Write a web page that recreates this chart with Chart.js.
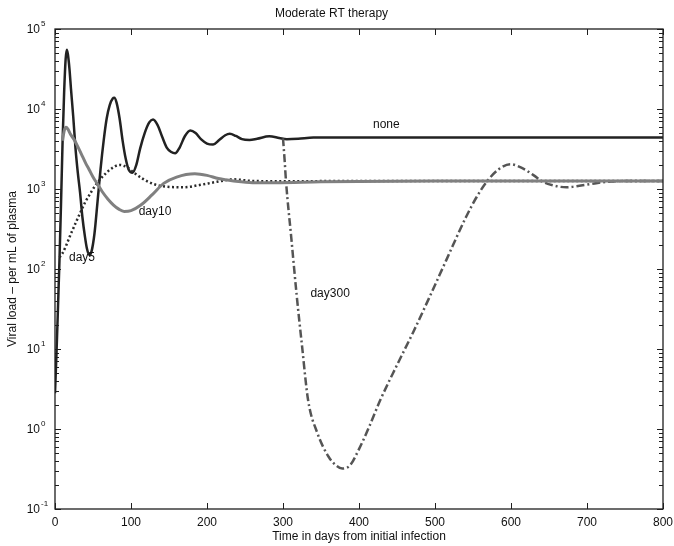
<!DOCTYPE html>
<html>
<head>
<meta charset="utf-8">
<script src="https://cdn.jsdelivr.net/npm/chart.js@4.4.0/dist/chart.umd.min.js"></script>
<style>
html,body{margin:0;padding:0;background:#fff;}
</style>
</head>
<body>
<canvas id="myChart" width="674" height="546"></canvas>
<script>
// datos (dias, carga viral)
const tNone = [0,2,4,6,8,10,12,14,15.5,17,19,21,24,27,30,33,36,39.5,42,45,48,52,56,60,64,68,72,76,78,81,85,89,93,97,102,107,112,118,124,129,135,141,147,153,158,164,171,178,185,192,200,208,216,224,230,238,246,256,266,282,295,305,320,340,400,500,600,700,800];
const vNone = [2.8,9,35,140,700,4000,16000,42000,55000,48000,32000,18000,8000,3200,1600,900,450,250,180,150,165,280,700,1800,4000,7600,11200,13500,13800,12000,7600,4000,2400,1740,1600,2000,3200,5000,6800,7400,6300,4500,3300,2900,2800,3300,4600,5400,5000,4200,3700,3600,4100,4700,4900,4600,4200,4100,4250,4550,4350,4200,4250,4400,4400,4400,4400,4400,4400];

const tDay5 = [6,10,15,20,26,33,40,48,55,65,75,85,95,103,115,130,147,169,190,213,235,260,300,400,500,600,700,800];
const vDay5 = [140,158,200,263,355,500,690,930,1175,1510,1820,2000,1860,1620,1350,1150,1070,1050,1120,1230,1320,1260,1250,1260,1260,1260,1260,1260];

const tDay10 = [10,12,14.5,17,20,25,30,35,40,45,50,56,62,70,77,84,91,100,113,128,143,160,184,200,215,235,260,290,350,500,800];
const vDay10 = [4000,5300,5900,5600,4900,4170,3390,2690,2140,1740,1410,1150,930,740,630,560,525,537,630,850,1175,1410,1550,1480,1350,1260,1200,1200,1230,1260,1260];

const tDay300 = [300,302,304,311,318,325,333,345,360,370,378,388,400,414,428,450,471,493,515,541,555,568,583,599,615,630,642,657,673,690,710,726,760,800];
const vDay300 = [4300,2400,1230,240,47,11,2.3,0.9,0.45,0.35,0.32,0.35,0.56,1.1,2.3,6.3,16,45,130,450,800,1230,1740,2040,1820,1480,1230,1100,1050,1100,1175,1230,1260,1260];

const xTicks = [0,100,200,300,400,500,600,700,800];
const yTicks = [0.1,1,10,100,1000,10000,100000];
const yExp = ['-1','0','1','2','3','4','5'];

const etiquetas = ['none','day5','day10','day300'];
const etiquetaT = [436,35.5,131.6,362];
const etiquetaV = [6300,138,520,49];

function puntos(t, v){
    let arr = [];
    for(let i=0;i<t.length;i++){
        arr.push({x:t[i], y:v[i]});
    }
    return arr;
}

const marco = {
    id: 'marco',
    afterDraw(chart){
        const ctx = chart.ctx;
        const a = chart.chartArea;
        const xs = chart.scales.x;
        const ys = chart.scales.y;
        ctx.save();
        ctx.strokeStyle = '#1e1e1e';
        ctx.lineWidth = 1.3;
        ctx.strokeRect(a.left, a.top, a.right-a.left, a.bottom-a.top);

        function linea(x1,y1,x2,y2){
            ctx.beginPath();
            ctx.moveTo(x1,y1);
            ctx.lineTo(x2,y2);
            ctx.stroke();
        }
        ctx.lineWidth = 1;
        xTicks.forEach(v => {
            const px = Math.round(xs.getPixelForValue(v)) + 0.5;
            linea(px, a.bottom, px, a.bottom-6);
            linea(px, a.top, px, a.top+6);
        });
        yTicks.forEach((v,i) => {
            const py = Math.round(ys.getPixelForValue(v)) + 0.5;
            linea(a.left, py, a.left+6, py);
            linea(a.right, py, a.right-6, py);
            if(i < yTicks.length-1){
                for(let m=2;m<10;m++){
                    const pm = Math.round(ys.getPixelForValue(v*m)) + 0.5;
                    linea(a.left, pm, a.left+4, pm);
                    linea(a.right, pm, a.right-4, pm);
                }
            }
        });

        // etiquetas eje y 10^n
        ctx.fillStyle = '#111';
        ctx.textBaseline = 'middle';
        yTicks.forEach((v,i) => {
            const py = ys.getPixelForValue(v);
            ctx.font = '12px "Liberation Sans", Arial, sans-serif';
            ctx.textAlign = 'right';
            ctx.fillText('10', a.left-15, py+1);
            ctx.font = '8px "Liberation Sans", Arial, sans-serif';
            ctx.textAlign = 'left';
            ctx.fillText(yExp[i], a.left-14, py-5);
        });

        // nombres de las curvas
        ctx.font = '12px "Liberation Sans", Arial, sans-serif';
        ctx.textAlign = 'center';
        for(let i=0;i<etiquetas.length;i++){
            ctx.fillText(etiquetas[i], xs.getPixelForValue(etiquetaT[i]), ys.getPixelForValue(etiquetaV[i]));
        }
        ctx.restore();
    }
};

function graficos(){
    const ctx = document.getElementById('myChart').getContext('2d');
    const fuente = {family: '"Liberation Sans", Arial, sans-serif', size: 12};
    new Chart(ctx, {
        type: 'line',
        data: {
            datasets: [
                {label:'day10', data: puntos(tDay10, vDay10), borderColor:'#808080', borderWidth:3},
                {label:'day5', data: puntos(tDay5, vDay5), borderColor:'#2a2a2a', borderWidth:2.5, borderDash:[2,2.5]},
                {label:'day300', data: puntos(tDay300, vDay300), borderColor:'#555555', borderWidth:2.5, borderDash:[8,3,2,3]},
                {label:'none', data: puntos(tNone, vNone), borderColor:'#222222', borderWidth:2.5}
            ]
        },
        options: {
            responsive: false,
            animation: false,
            devicePixelRatio: 1,
            elements: {
                point: {radius: 0},
                line: {cubicInterpolationMode: 'monotone', fill: false}
            },
            layout: {padding: {left: 0, right: 11, top: 0, bottom: 0}},
            scales: {
                x: {
                    type: 'linear',
                    min: 0, max: 800,
                    afterBuildTicks: s => { s.ticks = xTicks.map(v => ({value: v})); },
                    afterFit: s => { s.height = 37; s.paddingLeft = 0; s.paddingRight = 0; },
                    grid: {display: false, drawTicks: false},
                    border: {display: false},
                    ticks: {color:'#111', font: fuente, padding: 6, maxRotation: 0, autoSkip: false},
                    title: {display: true, text: 'Time in days from initial infection', color:'#111', font: fuente, padding: {top: 0, bottom: 2}}
                },
                y: {
                    type: 'logarithmic',
                    min: 0.1, max: 100000,
                    afterBuildTicks: s => { s.ticks = yTicks.map(v => ({value: v})); },
                    afterFit: s => { s.width = 55; s.paddingTop = 0; s.paddingBottom = 0; },
                    grid: {display: false, drawTicks: false},
                    border: {display: false},
                    ticks: {display: false},
                    title: {display: true, text: 'Viral load – per mL of plasma', color:'#111', font: fuente, padding: {top: 5, bottom: 0}}
                }
            },
            plugins: {
                legend: {display: false},
                tooltip: {enabled: false},
                title: {
                    display: true,
                    text: 'Moderate RT therapy',
                    color: '#111',
                    font: {family: '"Liberation Sans", Arial, sans-serif', size: 12, weight: 'normal'},
                    padding: {top: 6, bottom: 8.6}
                }
            }
        },
        plugins: [marco]
    });
}

window.addEventListener('load', graficos);
</script>
</body>
</html>
